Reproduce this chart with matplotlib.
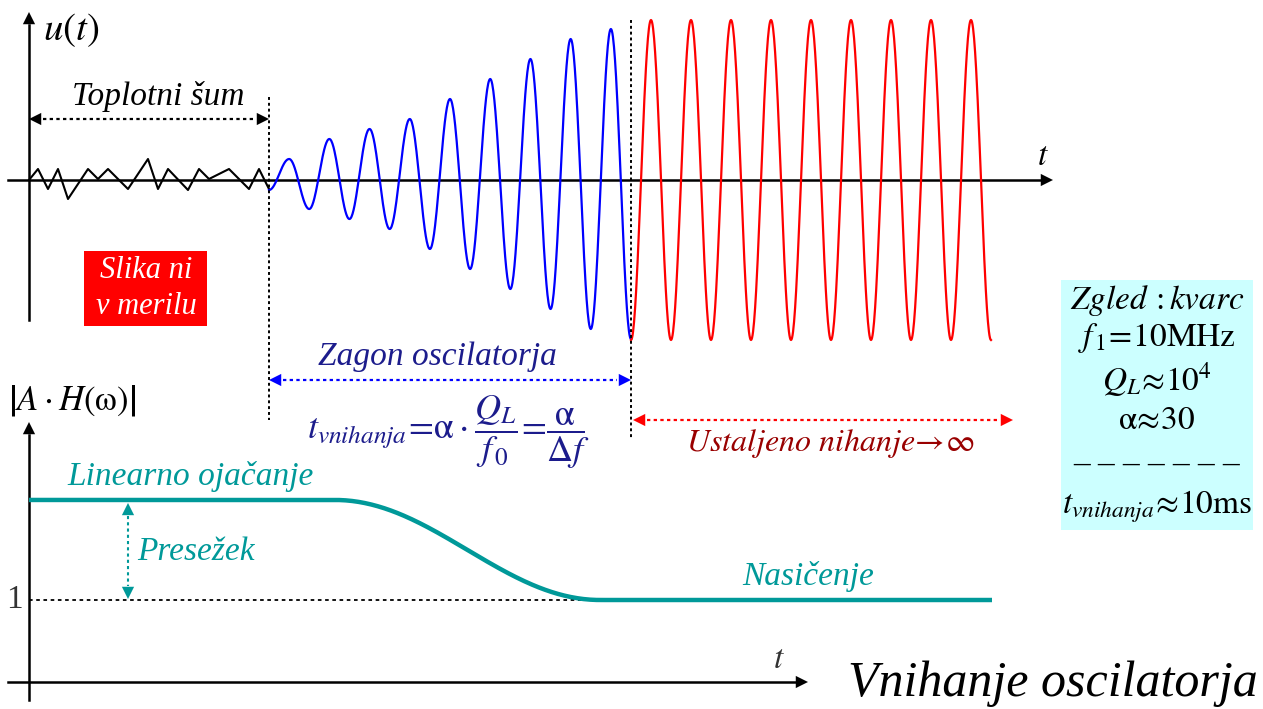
import matplotlib.pyplot as plt
from matplotlib.patches import FancyArrowPatch, Rectangle
import numpy as np

plt.rcParams["font.family"] = ["Liberation Serif", "DejaVu Serif"]
plt.rcParams["mathtext.fontset"] = "stix"

# thermal noise: time offsets and values (px from axis origin)
noise_t = [0, 9, 19, 29, 39, 59, 69, 79, 99, 119, 129, 139, 159, 170, 180, 200, 220, 230, 240]
noise_u = [0, 11, -9, 11, -19, 11, 1, 11, -9, 21, -9, 11, -10, 11, 1, 11, -9, 11, -9]

# start-up oscillation: successive extrema (one every half period)
blue_ext = [-10, 21, -29, 41, -39, 51, -49, 61, -69, 81, -89, 101, -109, 121, -129, 141, -149, 151, -159]
blue_t0, blue_t1 = 240, 602

# steady oscillation
red_amp = 160
red_halfcycles = 18
red_t0, red_t1 = 602, 962

# loop gain |A*H(w)|
gain_high = 2.22
gain_low = 1.0
gain_knee = [306, 571]
gain_end = 963

# layout (pixels)
X0 = 29
Y_U = 180
Y_G = 682
G_UNIT = 82

NAVY = "#1c1c8c"
TEAL = "#009999"
DRED = "#990000"
FS = 24


def halfwaves(t0, t1, ext):
    xs, ys = [], []
    n = len(ext) - 1
    edges = np.linspace(t0, t1, n + 1)
    for i in range(n):
        tt = np.linspace(edges[i], edges[i + 1], 40)
        a, b = ext[i], ext[i + 1]
        yy = (a + b) / 2 + (a - b) / 2 * np.cos(np.pi * (tt - edges[i]) / (edges[i + 1] - edges[i]))
        xs.append(tt)
        ys.append(yy)
    return np.concatenate(xs), np.concatenate(ys)


def head(ax, tip, back, color, scale=22):
    ax.add_patch(FancyArrowPatch(back, tip, arrowstyle="-|>", mutation_scale=scale,
                                 color=color, lw=0, shrinkA=0, shrinkB=0))


def dbl_arrow(ax, p1, p2, color, lw=1.6, hl=14):
    p1 = np.array(p1, float)
    p2 = np.array(p2, float)
    d = (p2 - p1) / np.linalg.norm(p2 - p1)
    ax.plot([p1[0] + d[0] * hl, p2[0] - d[0] * hl], [p1[1] + d[1] * hl, p2[1] - d[1] * hl],
            color=color, lw=lw, ls=(0, (1.5, 1.5)))
    head(ax, p1, p1 + d * hl, color)
    head(ax, p2, p2 - d * hl, color)


fig = plt.figure(figsize=(12.63, 7.09), dpi=100)
ax = fig.add_axes([0, 0, 1, 1])
ax.set_xlim(0, 1263)
ax.set_ylim(709, 0)
ax.axis("off")

# ---- top: u(t) ----
ax.plot([8, 1040], [Y_U, Y_U], color="black", lw=1.8)
head(ax, (1053, Y_U), (1036, Y_U), "black")
ax.plot([X0, X0], [320, 25], color="black", lw=1.8)
head(ax, (X0, 12), (X0, 30), "black")

ax.plot(X0 + np.array(noise_t), Y_U - np.array(noise_u), color="black", lw=1.5)

bx, by = halfwaves(blue_t0, blue_t1, blue_ext)
ax.plot(X0 + bx, Y_U - by, color="blue", lw=1.6)

red_ext = [(-1) ** (i + 1) * red_amp for i in range(red_halfcycles + 1)]
rx, ry = halfwaves(red_t0, red_t1, red_ext)
ax.plot(X0 + rx, Y_U - ry, color="red", lw=1.6)

ax.plot([X0 + blue_t0] * 2, [97, 420], color="black", lw=1.4, ls=(0, (1.5, 1.5)))
ax.plot([X0 + blue_t1] * 2, [20, 440], color="black", lw=1.4, ls=(0, (1.5, 1.5)))

ax.text(71, 30, r"$u\left(t\right)$", fontsize=28, ha="center", va="center")
ax.text(1043, 157, r"$t$", fontsize=24, ha="center", va="center")

ax.text(158, 97, "Toplotni šum", fontsize=FS, style="italic", ha="center", va="center")
dbl_arrow(ax, (X0, 119), (X0 + blue_t0, 119), "black")

ax.add_patch(Rectangle((84, 251), 123, 75, color="red", lw=0))
ax.text(146, 271, "Slika ni", fontsize=22, style="italic", color="white", ha="center", va="center")
ax.text(146, 306, "v merilu", fontsize=22, style="italic", color="white", ha="center", va="center")

ax.text(437, 357, "Zagon oscilatorja", fontsize=FS, style="italic", color=NAVY, ha="center", va="center")
dbl_arrow(ax, (X0 + blue_t0, 380), (X0 + blue_t1, 380), "blue")
ax.text(449, 432, r"$t_{vnihanja}\!=\!\mathrm{\alpha}\cdot\dfrac{Q_L}{f_{\,0}}\!=\!\dfrac{\mathrm{\alpha}}{\Delta f}$",
        fontsize=26, color=NAVY, ha="center", va="center")

dbl_arrow(ax, (X0 + blue_t1 + 2, 420), (1013, 420), "red")
ax.text(830, 444, r"$\mathit{Ustaljeno\ nihanje}\!\rightarrow\!\infty$", fontsize=23, color=DRED,
        ha="center", va="center")

# ---- bottom: |A H(w)| ----
ax.plot([8, 795], [Y_G, Y_G], color="black", lw=1.8)
head(ax, (808, Y_G), (791, Y_G), "black")
ax.plot([X0, X0], [700, 435], color="black", lw=1.8)
head(ax, (X0, 422), (X0, 440), "black")
ax.text(779, 660, r"$t$", fontsize=24, ha="center", va="center", color="#333333")
ax.text(72, 400, r"$\left|A\cdot H\left(\mathrm{\omega}\right)\right|$", fontsize=25, ha="center", va="center")
ax.text(14, 600, "1", fontsize=24, ha="center", va="center", color="#333333")

y_one = Y_G - gain_low * G_UNIT
ax.plot([X0, X0 + gain_knee[1]], [y_one, y_one], color="black", lw=1.3, ls=(0, (2, 2)))

gt = np.linspace(0, gain_end, 600)
s = np.clip((gt - gain_knee[0]) / (gain_knee[1] - gain_knee[0]), 0, 1)
g = gain_high + (gain_low - gain_high) * (1 - np.cos(np.pi * s)) / 2
ax.plot(X0 + gt, Y_G - g * G_UNIT, color=TEAL, lw=3.2, solid_capstyle="butt")

ax.text(191, 477, "Linearno ojačanje", fontsize=FS, style="italic", color=TEAL, ha="center", va="center")
y_hi = Y_G - gain_high * G_UNIT
dbl_arrow(ax, (128, y_hi + 3), (128, y_one - 1), TEAL, lw=1.5, hl=13)
ax.text(196, 552, "Presežek", fontsize=FS, style="italic", color=TEAL, ha="center", va="center")
ax.text(808, 577, "Nasičenje", fontsize=FS, style="italic", color=TEAL, ha="center", va="center")

# ---- example box ----
ax.add_patch(Rectangle((1061, 280), 192, 250, color="#ccffff", lw=0))
bx_c = 1157
ax.text(bx_c, 300, r"$Zgled\,:kvarc$", fontsize=24, ha="center", va="center")
ax.text(bx_c, 338, r"$f_{\,1}\!=\!10\mathrm{MHz}$", fontsize=24, ha="center", va="center")
ax.text(bx_c, 380, r"$Q_L\!\approx\!10^4$", fontsize=24, ha="center", va="center")
ax.text(bx_c, 421, r"$\mathrm{\alpha}\!\approx\!30$", fontsize=24, ha="center", va="center")
ax.text(bx_c, 465, "– – – – – – –", fontsize=24, ha="center", va="center")
ax.text(bx_c, 507, r"$t_{vnihanja}\!\approx\!10\mathrm{ms}$", fontsize=24, ha="center", va="center")

ax.text(1258, 684, "Vnihanje oscilatorja", fontsize=36, style="italic", ha="right", va="center")

fig.savefig("out.png", dpi=100)
